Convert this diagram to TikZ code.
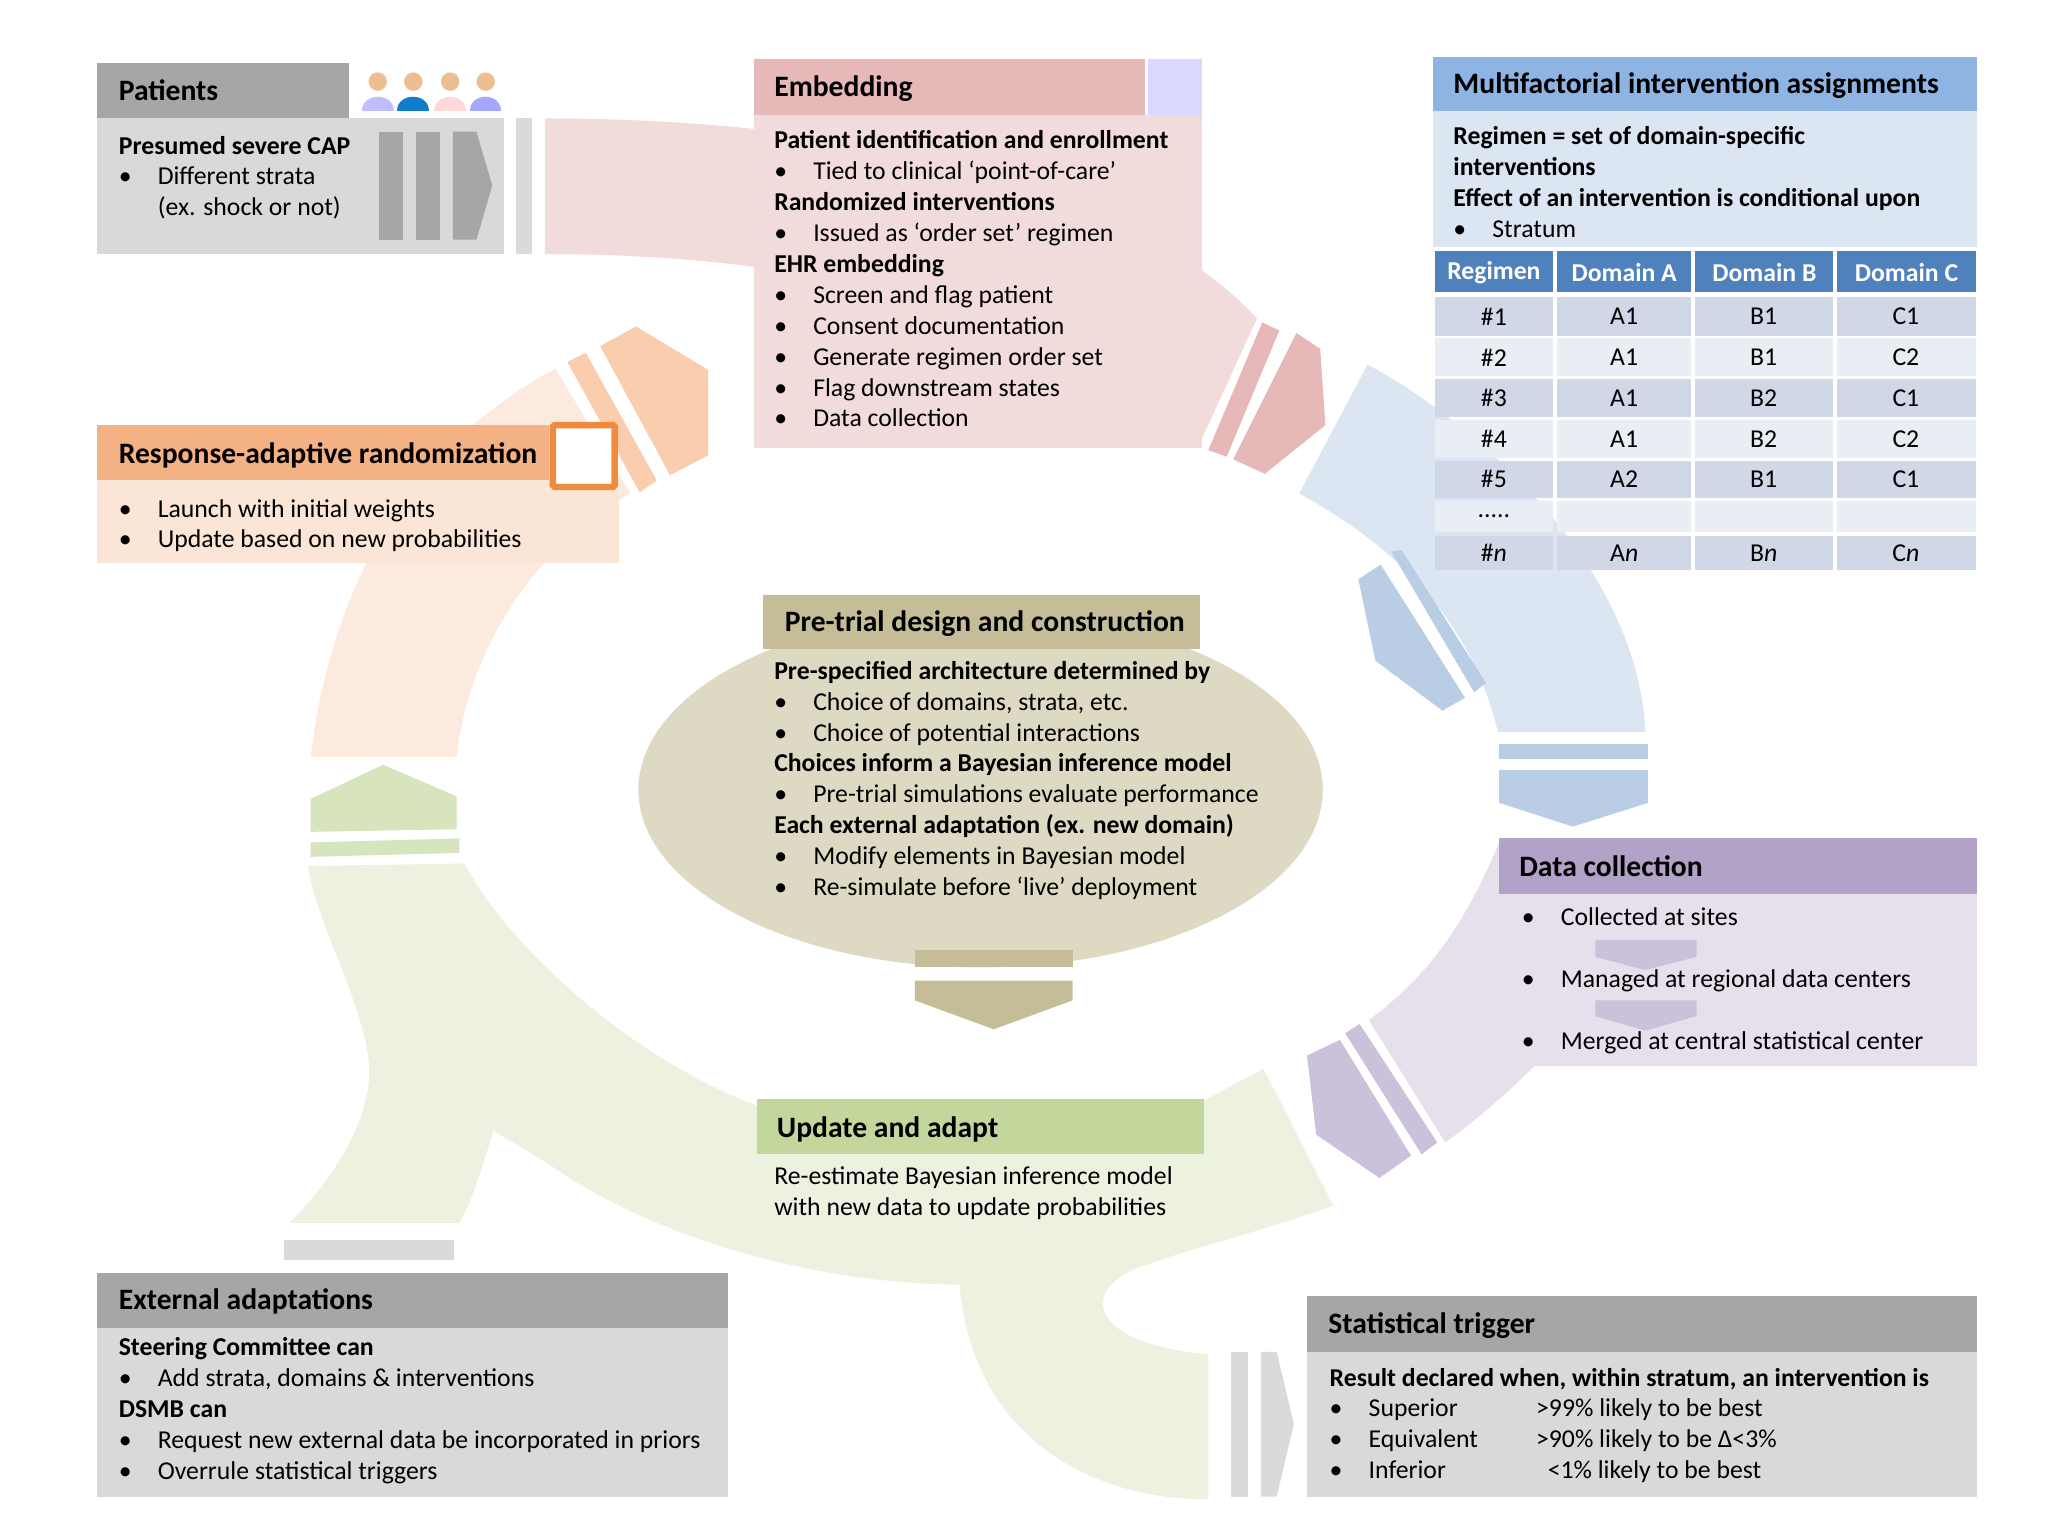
\documentclass[tikz,border=0pt]{standalone}
\usepackage{fontspec}
\setmainfont{Carlito}
\usetikzlibrary{positioning}

\definecolor{grayhdr}{HTML}{A6A6A6}
\definecolor{graybody}{HTML}{D9D9D9}
\definecolor{graybar}{HTML}{DADADD}
\definecolor{pinkband}{HTML}{F2DCDB}
\definecolor{pinkhdr}{HTML}{E6B9B8}
\definecolor{orangehdr}{HTML}{F4B183}
\definecolor{orangebody}{HTML}{FBE5D6}
\definecolor{orangeband}{HTML}{FDEADF}
\definecolor{orangestripe}{HTML}{F9CDAE}
\definecolor{orangeframe}{HTML}{F08A3C}
\definecolor{greenband}{HTML}{EDF1E0}
\definecolor{greenstripe}{HTML}{D7E4BD}
\definecolor{greenhdr}{HTML}{C3D69B}
\definecolor{blueband}{HTML}{DCE6F2}
\definecolor{bluestripe}{HTML}{B9CDE5}
\definecolor{bluehdr}{HTML}{8EB4E3}
\definecolor{tablehdr}{HTML}{4F81BD}
\definecolor{rowdark}{HTML}{D0D8E8}
\definecolor{rowlight}{HTML}{E9EDF4}
\definecolor{purpleband}{HTML}{E6E0EC}
\definecolor{purplehdr}{HTML}{B3A2C7}
\definecolor{purplestripe}{HTML}{CCC1DA}
\definecolor{beige}{HTML}{DDD9C3}
\definecolor{beigehdr}{HTML}{C4BD97}

\newcommand{\itm}{\makebox[0.74cm][l]{\textbullet}}
\newcommand{\fivedots}{.....}

\begin{document}
\begin{tikzpicture}[
        x=0.025cm, y=-0.025cm,
        title/.style = {anchor=base west, inner sep=0pt, font=\fontsize{16}{19}\selectfont\bfseries},
        body/.style = {anchor=north west, inner sep=0pt, align=left, font=\fontsize{13.9}{16.7}\selectfont},
        line/.style = {anchor=base west, inner sep=0pt, font=\fontsize{13.9}{16.7}\selectfont},
        cell/.style = {inner sep=0pt, font=\fontsize{13.9}{16.7}\selectfont}
    ]
    \useasboundingbox (0,0) rectangle (1556,1167);

    % ring bands
    \fill[pinkband] (414,90) .. controls (700,90) and (880,160) .. (955,242) -- (911,338)
        .. controls (800,230) and (600,193) .. (414,193) -- cycle;
    \fill[pinkhdr] (959,245) -- (972,251) -- (932,347) -- (918,342) -- cycle;
    \fill[pinkhdr] (985,253) -- (1003,265) -- (1007,323) -- (961,360) -- (937,349) -- cycle;

    \fill[blueband] (1039,277) .. controls (1120,320) and (1245,430) .. (1250,556) -- (1138,556)
        .. controls (1120,480) and (1070,420) .. (987,375) -- cycle;
    \fill[bluestripe] (1057,419) -- (1065,418) -- (1129,519) -- (1120,526) -- cycle;
    \fill[bluestripe] (1049,429) -- (1113,530) -- (1096,540) -- (1045,502) -- (1032,440) -- cycle;
    \fill[bluestripe] (1139,565) rectangle (1252,577);
    \fill[bluestripe] (1139,585) -- (1252,585) -- (1252,610) -- (1195,628) -- (1139,610) -- cycle;

    \fill[purpleband] (1139,640) .. controls (1110,710) and (1080,745) .. (1040,775) -- (1098,868)
        .. controls (1130,845) and (1150,825) .. (1168,808) -- (1168,640) -- cycle;
    \fill[purplestripe] (1022,785) -- (1033,778) -- (1092,868) -- (1080,877) -- cycle;
    \fill[purplestripe] (993,802) -- (1018,790) -- (1072,878) -- (1048,895) -- (1000,862) -- cycle;

    \fill[greenband] (234,658) -- (353,656) .. controls (380,710) and (470,800) .. (575,840) -- (915,836)
        -- (960,812) -- (1013,916) .. controls (960,935) and (900,950) .. (874,960)
        .. controls (820,975) and (820,1020) .. (918,1029) -- (918,1139)
        .. controls (840,1140) and (740,1100) .. (729,976)
        .. controls (600,975) and (480,930) .. (418,885) -- (375,859)
        .. controls (365,890) and (360,910) .. (349,929) -- (220,929)
        .. controls (260,890) and (285,840) .. (280,805)
        .. controls (275,760) and (240,700) .. (234,658) -- cycle;
    \fill[greenstripe] (236,607) -- (291,581) -- (347,605) -- (347,630) -- (236,632) -- cycle;
    \fill[greenstripe] (236,640) -- (349,637) -- (349,648) -- (236,651) -- cycle;
    \fill[graybar] (216,942) rectangle (345,957);

    \fill[orangeband] (422,280) .. controls (330,330) and (255,420) .. (236,575) -- (347,575)
        .. controls (355,500) and (400,420) .. (479,375) -- cycle;
    \fill[orangestripe] (431,275) -- (445,268) -- (499,365) -- (486,374) -- cycle;
    \fill[orangestripe] (456,263) -- (483,248) -- (538,281) -- (538,346) -- (509,361) -- cycle;

    \fill[graybar] (935,1027) rectangle (948,1137);
    \fill[graybar] (958,1027) -- (970,1027) -- (983,1082) -- (970,1137) -- (958,1137) -- cycle;

    % patients
    \fill[grayhdr] (74,48) rectangle (265,90);
    \fill[graybody] (74,90) rectangle (383,193);
    \fill[graybar] (392,90) rectangle (404,193);
    \fill[grayhdr] (288,100) rectangle (306,182);
    \fill[grayhdr] (316,100) rectangle (334,182);
    \fill[grayhdr] (344,100) -- (362,100) -- (374,141) -- (362,182) -- (344,182) -- cycle;
    \foreach \px/\shirt in {287/blue!25, 314/cyan!60!blue, 342/pink!60, 369/blue!35} {
        \fill[\shirt] (\px-12,84) .. controls (\px-12,70) and (\px+12,70) .. (\px+12,84) -- cycle;
        \fill[orange!40!brown!50] (\px,62) circle (7);
    }
    \node[title] (patients) at (90,76) {Patients};
    \node[body] (patients_text) at (90,103) {\textbf{Presumed severe CAP}\\
        \itm Different strata\\
        \hspace*{0.74cm}(ex. shock or not)};

    % embedding
    \fill[pinkhdr] (573,45) rectangle (870,87);
    \fill[blue!15] (872,45) rectangle (913,87);
    \fill[pinkband] (573,87) rectangle (913,340);
    \node[title] (embedding) at (588,73) {Embedding};
    \node[body] (embedding_text) at (588,99) {\textbf{Patient identification and enrollment}\\
        \itm Tied to clinical ‘point-of-care’\\
        \textbf{Randomized interventions}\\
        \itm Issued as ‘order set’ regimen\\
        \textbf{EHR embedding}\\
        \itm Screen and flag patient\\
        \itm Consent documentation\\
        \itm Generate regimen order set\\
        \itm Flag downstream states\\
        \itm Data collection};

    % multifactorial
    \fill[bluehdr] (1089,43) rectangle (1502,84);
    \fill[blueband] (1089,84) rectangle (1502,188);
    \node[title] (multi) at (1104,71) {Multifactorial intervention assignments};
    \node[body] (multi_text) at (1104,96) {\textbf{Regimen = set of domain-specific}\\
        \textbf{interventions}\\
        \textbf{Effect of an intervention is conditional upon}\\
        \itm Stratum};
    \foreach \xa/\xb/\lab [count=\i] in {1090/1180/Regimen, 1183/1285/Domain A, 1288/1393/Domain B, 1396/1501/Domain C} {
        \fill[tablehdr] (\xa,191) rectangle (\xb,222);
        \node[cell, text=white, font=\fontsize{13.9}{16.7}\selectfont\bfseries] (hd\i) at ({(\xa+\xb)/2},207) {\lab};
    }
    \foreach \ya/\yb/\fc/\r/\a/\b/\c [count=\j] in {
            226/255/rowdark/\#1/A1/B1/C1,
            257/286/rowlight/\#2/A1/B1/C2,
            288/317/rowdark/\#3/A1/B2/C1,
            319/348/rowlight/\#4/A1/B2/C2,
            350/378/rowdark/\#5/A2/B1/C1,
            381/404/rowlight/\fivedots/{}/{}/{},
            407/433/rowdark/\#\textit{n}/A\textit{n}/B\textit{n}/C\textit{n}} {
        \fill[\fc] (1090,\ya) rectangle (1180,\yb);
        \fill[\fc] (1183,\ya) rectangle (1285,\yb);
        \fill[\fc] (1288,\ya) rectangle (1393,\yb);
        \fill[\fc] (1396,\ya) rectangle (1501,\yb);
        \node[cell] (r\j) at (1135,{(\ya+\yb)/2}) {\r};
        \node[cell] (a\j) at (1234,{(\ya+\yb)/2}) {\a};
        \node[cell] (b\j) at (1340,{(\ya+\yb)/2}) {\b};
        \node[cell] (c\j) at (1448,{(\ya+\yb)/2}) {\c};
    }

    % response-adaptive randomization
    \fill[orangehdr] (74,323) rectangle (417,365);
    \fill[orangebody] (74,365) rectangle (470,428);
    \draw[orangeframe, line width=3.5pt, fill=white, rounded corners=1pt] (420,323) rectangle (467,370);
    \node[title] (rar) at (90,352) {Response-adaptive randomization};
    \node[body] (rar_text) at (90,379) {\itm Launch with initial weights\\
        \itm Update based on new probabilities};

    % pre-trial design
    \fill[beige] (745,600) ellipse [x radius=260, y radius=135];
    \fill[beigehdr] (580,452) rectangle (912,493);
    \fill[beigehdr] (695,722) rectangle (815,735);
    \fill[beigehdr] (695,745) -- (815,745) -- (815,760) -- (755,782) -- (695,760) -- cycle;
    \node[title] (pretrial) at (596,480) {Pre-trial design and construction};
    \node[body] (pretrial_text) at (588,502) {\textbf{Pre-specified architecture determined by}\\
        \itm Choice of domains, strata, etc.\\
        \itm Choice of potential interactions\\
        \textbf{Choices inform a Bayesian inference model}\\
        \itm Pre-trial simulations evaluate performance\\
        \textbf{Each external adaptation (ex. new domain)}\\
        \itm Modify elements in Bayesian model\\
        \itm Re-simulate before ‘live’ deployment};

    % data collection
    \fill[purplehdr] (1139,637) rectangle (1502,679);
    \fill[purpleband] (1139,679) rectangle (1502,810);
    \fill[purplestripe] (1212,714) -- (1289,714) -- (1289,727) -- (1250,737) -- (1212,727) -- cycle;
    \fill[purplestripe] (1212,760) -- (1289,760) -- (1289,772) -- (1250,783) -- (1212,772) -- cycle;
    \node[title] (datacoll) at (1154,666) {Data collection};
    \node[line] (site) at (1156,703) {\itm Collected at sites};
    \node[line] (regional) at (1156,750) {\itm Managed at regional data centers};
    \node[line] (central) at (1156,797) {\itm Merged at central statistical center};

    % update and adapt
    \fill[greenhdr] (575,835) rectangle (915,877);
    \node[title] (update) at (590,864) {Update and adapt};
    \node[body] (update_text) at (588,886) {Re-estimate Bayesian inference model\\
        with new data to update probabilities};

    % external adaptations
    \fill[grayhdr] (74,967) rectangle (553,1009);
    \fill[graybody] (74,1009) rectangle (553,1137);
    \node[title] (external) at (90,995) {External adaptations};
    \node[body] (external_text) at (90,1016) {\textbf{Steering Committee can}\\
        \itm Add strata, domains \& interventions\\
        \textbf{DSMB can}\\
        \itm Request new external data be incorporated in priors\\
        \itm Overrule statistical triggers};

    % statistical trigger
    \fill[grayhdr] (993,985) rectangle (1502,1027);
    \fill[graybody] (993,1027) rectangle (1502,1137);
    \node[title] (trigger) at (1009,1013) {Statistical trigger};
    \node[body] (trigger_text) at (1010,1039) {\textbf{Result declared when, within stratum, an intervention is}\\
        \itm\makebox[3.18cm][l]{Superior}>99\% likely to be best\\
        \itm\makebox[3.18cm][l]{Equivalent}>90\% likely to be Δ<3\%\\
        \itm\makebox[3.18cm][l]{Inferior}\hspace*{0.22cm}<1\% likely to be best};
\end{tikzpicture}
\end{document}
